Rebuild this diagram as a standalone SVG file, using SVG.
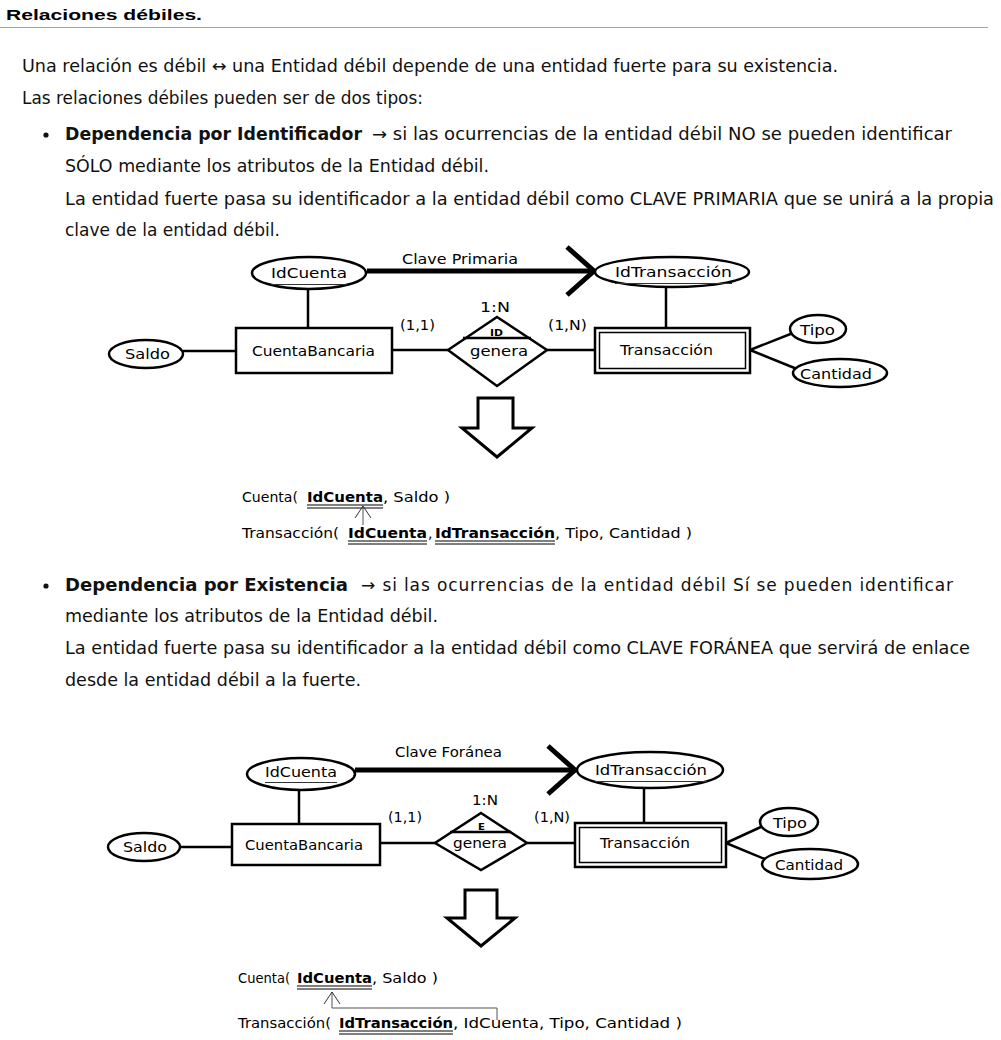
<svg xmlns="http://www.w3.org/2000/svg" width="1001" height="1040" viewBox="0 0 1001 1040">
<defs>
<style>
.body{font-family:"DejaVu Sans","Noto Sans",sans-serif;font-size:17px;fill:#111;}
.bold{font-weight:bold;}
.head{font-family:"Liberation Sans",Arial,sans-serif;font-size:15px;font-weight:bold;fill:#000;}
.er{font-family:"DejaVu Sans","Noto Sans",sans-serif;font-size:14px;fill:#000;}
.small{font-family:"DejaVu Sans",sans-serif;font-size:8px;font-weight:bold;fill:#000;}
.rel{font-family:"DejaVu Sans","Noto Sans",sans-serif;font-size:14px;fill:#000;}
.shape{fill:#fff;stroke:#000;stroke-width:2.5;}
.ln{stroke:#000;stroke-width:2.5;fill:none;}
.thick{stroke:#000;stroke-width:5;fill:none;}
.ul{stroke:#333;stroke-width:1;}
.ul2{stroke:#000;stroke-width:1.2;}
.thin{stroke:#555;stroke-width:1;fill:none;}
.block{fill:#fff;stroke:#000;stroke-width:3;stroke-linejoin:miter;}
</style>
<marker id="chev" markerUnits="userSpaceOnUse" markerWidth="40" markerHeight="60" refX="0" refY="0" viewBox="-30 -30 40 60" orient="auto" overflow="visible">
<path d="M -27 -24 L 0 0 L -27 24" fill="none" stroke="#000" stroke-width="5"/>
</marker>
<marker id="openv" markerUnits="userSpaceOnUse" markerWidth="20" markerHeight="20" refX="0" refY="0" viewBox="-12 -10 14 20" orient="auto" overflow="visible">
<path d="M -12 -8 L 0 0 L -12 8" fill="none" stroke="#333" stroke-width="1"/>
</marker>
</defs>
<rect width="1001" height="1040" fill="#fff"/>

<g id="heading">
<text class="head" x="6" y="20" textLength="196" lengthAdjust="spacingAndGlyphs">Relaciones débiles.</text>
<line x1="0" y1="27.5" x2="988" y2="27.5" stroke="#8fa6c4" stroke-width="1.2"/>
</g>
<g id="intro">
<text class="body" x="22" y="72" textLength="816" lengthAdjust="spacingAndGlyphs">Una relación es débil ↔ una Entidad débil depende de una entidad fuerte para su existencia.</text>
<text class="body" x="22" y="104" textLength="401" lengthAdjust="spacingAndGlyphs">Las relaciones débiles pueden ser de dos tipos:</text>
</g>
<g id="bullet1">
<circle cx="46" cy="135" r="2.6" fill="#111"/>
<text class="body bold" x="65" y="140" textLength="297" lengthAdjust="spacingAndGlyphs">Dependencia por Identificador</text>
<text class="body" x="372" y="140" textLength="580" lengthAdjust="spacingAndGlyphs">→ si las ocurrencias de la entidad débil NO se pueden identificar</text>
<text class="body" x="65" y="172" textLength="424" lengthAdjust="spacingAndGlyphs">SÓLO mediante los atributos de la Entidad débil.</text>
<text class="body" x="65" y="205" textLength="929" lengthAdjust="spacingAndGlyphs">La entidad fuerte pasa su identificador a la entidad débil como CLAVE PRIMARIA que se unirá a la propia</text>
<text class="body" x="65" y="236" textLength="215" lengthAdjust="spacingAndGlyphs">clave de la entidad débil.</text>
</g>
<g id="bullet2">
<circle cx="46" cy="586" r="2.6" fill="#111"/>
<text class="body bold" x="65" y="591" textLength="283" lengthAdjust="spacingAndGlyphs">Dependencia por Existencia</text>
<text class="body" x="361" y="591" textLength="592" lengthAdjust="spacing">→ si las ocurrencias de la entidad débil Sí se pueden identificar</text>
<text class="body" x="65" y="622" textLength="373" lengthAdjust="spacingAndGlyphs">mediante los atributos de la Entidad débil.</text>
<text class="body" x="65" y="654" textLength="905" lengthAdjust="spacingAndGlyphs">La entidad fuerte pasa su identificador a la entidad débil como CLAVE FORÁNEA que servirá de enlace</text>
<text class="body" x="65" y="686" textLength="296" lengthAdjust="spacingAndGlyphs">desde la entidad débil a la fuerte.</text>
</g>

<g id="connectors1">
<line class="thick" x1="367" y1="271" x2="594" y2="271" marker-end="url(#chev)"/>
<text class="er" x="402" y="264" textLength="116" lengthAdjust="spacingAndGlyphs">Clave Primaria</text>
<line class="ln" x1="308" y1="289" x2="308" y2="328"/>
<line class="ln" x1="183" y1="351" x2="236" y2="351"/>
<line class="ln" x1="392" y1="350" x2="448" y2="350"/>
<line class="ln" x1="546" y1="350" x2="595" y2="350"/>
<line class="ln" x1="666" y1="287" x2="666" y2="328"/>
<line class="ln" x1="750" y1="350" x2="793" y2="333"/>
<line class="ln" x1="750" y1="350" x2="797" y2="369"/>
<text class="er" x="400" y="330" textLength="35" lengthAdjust="spacingAndGlyphs">(1,1)</text>
<text class="er" x="548" y="330" textLength="39" lengthAdjust="spacingAndGlyphs">(1,N)</text>
<text class="er" x="480" y="312" textLength="30" lengthAdjust="spacingAndGlyphs">1:N</text>
</g>
<g id="d1-idcuenta">
<ellipse class="shape" cx="309" cy="273" rx="57" ry="16"/>
<text class="er" x="271" y="278" textLength="76" lengthAdjust="spacingAndGlyphs">IdCuenta</text>
<line class="ul" x1="271" y1="284.5" x2="347" y2="284.5"/>
</g>
<g id="d1-saldo">
<ellipse class="shape" cx="146" cy="354" rx="37" ry="14"/>
<text class="er" x="125" y="359" textLength="45" lengthAdjust="spacingAndGlyphs">Saldo</text>
</g>
<g id="d1-cuentabancaria">
<rect class="shape" x="236" y="328" width="156" height="45"/>
<text class="er" x="252" y="356" textLength="123" lengthAdjust="spacingAndGlyphs">CuentaBancaria</text>
</g>
<g id="d1-genera">
<polygon class="shape" points="497,317 547,350 497,386 448,350"/>
<line class="ln" x1="463" y1="338" x2="531" y2="338" stroke-width="2"/>
<text class="small" x="490" y="336" textLength="13" lengthAdjust="spacingAndGlyphs">ID</text>
<text class="er" x="470" y="356" textLength="58" lengthAdjust="spacingAndGlyphs">genera</text>
</g>
<g id="d1-idtransaccion">
<ellipse class="shape" cx="672" cy="272" rx="77" ry="15"/>
<text class="er" x="615" y="277" textLength="117" lengthAdjust="spacingAndGlyphs">IdTransacción</text>
<line class="ul" x1="615" y1="283.5" x2="732" y2="283.5"/>
</g>
<g id="d1-transaccion">
<rect class="shape" x="595" y="328" width="155" height="45"/>
<rect x="599.5" y="332.5" width="146" height="36" fill="none" stroke="#000" stroke-width="1.5"/>
<text class="er" x="620" y="355" textLength="93" lengthAdjust="spacingAndGlyphs">Transacción</text>
</g>
<g id="d1-tipo">
<ellipse class="shape" cx="818" cy="329" rx="28" ry="14"/>
<text class="er" x="800" y="335" textLength="35" lengthAdjust="spacingAndGlyphs">Tipo</text>
</g>
<g id="d1-cantidad">
<ellipse class="shape" cx="840" cy="373" rx="47" ry="14"/>
<text class="er" x="800" y="379" textLength="72" lengthAdjust="spacingAndGlyphs">Cantidad</text>
</g>
<g id="d1-arrow">
<polygon class="block" points="478,398 513,398 513,428 532,428 497,457 462,428 478,428"/>
</g>
<g id="d1-relational">
<text class="rel" x="242" y="502" textLength="56" lengthAdjust="spacingAndGlyphs">Cuenta(</text>
<text class="rel bold" x="307" y="502" textLength="76" lengthAdjust="spacingAndGlyphs">IdCuenta</text>
<text class="rel" x="383" y="502" textLength="67" lengthAdjust="spacingAndGlyphs">, Saldo )</text>
<line class="ul2" x1="307" y1="505" x2="383" y2="505"/>
<line class="ul2" x1="307" y1="508" x2="383" y2="508"/>
<line class="thin" x1="363" y1="525" x2="363" y2="506" marker-end="url(#openv)"/>
<text class="rel" x="242" y="538" textLength="97" lengthAdjust="spacingAndGlyphs">Transacción(</text>
<text class="rel bold" x="348" y="538" textLength="79" lengthAdjust="spacingAndGlyphs">IdCuenta</text>
<text class="rel" x="428" y="538">,</text>
<text class="rel bold" x="435" y="538" textLength="120" lengthAdjust="spacingAndGlyphs">IdTransacción</text>
<text class="rel" x="555" y="538" textLength="137" lengthAdjust="spacingAndGlyphs">, Tipo, Cantidad )</text>
<line class="ul2" x1="348" y1="541" x2="427" y2="541"/>
<line class="ul2" x1="348" y1="544" x2="427" y2="544"/>
<line class="ul2" x1="435" y1="541" x2="555" y2="541"/>
<line class="ul2" x1="435" y1="544" x2="555" y2="544"/>
</g>

<g id="connectors2">
<line class="thick" x1="355" y1="770" x2="575" y2="770" marker-end="url(#chev)"/>
<text class="er" x="395" y="757" textLength="107" lengthAdjust="spacingAndGlyphs">Clave Foránea</text>
<line class="ln" x1="299" y1="790" x2="299" y2="824"/>
<line class="ln" x1="180" y1="847" x2="232" y2="847"/>
<line class="ln" x1="380" y1="843" x2="435" y2="843"/>
<line class="ln" x1="527" y1="843" x2="575" y2="843"/>
<line class="ln" x1="644" y1="788" x2="644" y2="823"/>
<line class="ln" x1="726" y1="843" x2="763" y2="826"/>
<line class="ln" x1="726" y1="843" x2="767" y2="860"/>
<text class="er" x="388" y="822" textLength="34" lengthAdjust="spacingAndGlyphs">(1,1)</text>
<text class="er" x="534" y="822" textLength="36" lengthAdjust="spacingAndGlyphs">(1,N)</text>
<text class="er" x="472" y="805" textLength="26" lengthAdjust="spacingAndGlyphs">1:N</text>
</g>
<g id="d2-idcuenta">
<ellipse class="shape" cx="301" cy="774" rx="54" ry="16"/>
<text class="er" x="265" y="777" textLength="72" lengthAdjust="spacingAndGlyphs">IdCuenta</text>
<line class="ul" x1="265" y1="782.5" x2="337" y2="782.5"/>
</g>
<g id="d2-saldo">
<ellipse class="shape" cx="144" cy="847" rx="36" ry="14"/>
<text class="er" x="123" y="852" textLength="44" lengthAdjust="spacingAndGlyphs">Saldo</text>
</g>
<g id="d2-cuentabancaria">
<rect class="shape" x="232" y="824" width="148" height="41"/>
<text class="er" x="245" y="850" textLength="118" lengthAdjust="spacingAndGlyphs">CuentaBancaria</text>
</g>
<g id="d2-genera">
<polygon class="shape" points="481,813 527,843 481,870 435,843"/>
<line class="ln" x1="450" y1="832" x2="511" y2="832" stroke-width="2"/>
<text class="small" x="478" y="830" textLength="7" lengthAdjust="spacingAndGlyphs">E</text>
<text class="er" x="453" y="848" textLength="54" lengthAdjust="spacingAndGlyphs">genera</text>
</g>
<g id="d2-idtransaccion">
<ellipse class="shape" cx="650" cy="770" rx="73" ry="18"/>
<text class="er" x="595" y="775" textLength="112" lengthAdjust="spacingAndGlyphs">IdTransacción</text>
<line class="ul" x1="595" y1="781.5" x2="707" y2="781.5"/>
</g>
<g id="d2-transaccion">
<rect class="shape" x="575" y="823" width="151" height="44"/>
<rect x="579.5" y="827.5" width="142" height="35" fill="none" stroke="#000" stroke-width="1.5"/>
<text class="er" x="600" y="848" textLength="90" lengthAdjust="spacingAndGlyphs">Transacción</text>
</g>
<g id="d2-tipo">
<ellipse class="shape" cx="789" cy="822" rx="29" ry="14"/>
<text class="er" x="773" y="828" textLength="34" lengthAdjust="spacingAndGlyphs">Tipo</text>
</g>
<g id="d2-cantidad">
<ellipse class="shape" cx="810" cy="864" rx="48" ry="15"/>
<text class="er" x="775" y="870" textLength="68" lengthAdjust="spacingAndGlyphs">Cantidad</text>
</g>
<g id="d2-arrow">
<polygon class="block" points="465,890 497,890 497,918 515,918 481,946 447,918 465,918"/>
</g>
<g id="d2-relational">
<text class="rel" x="238" y="983" textLength="52" lengthAdjust="spacingAndGlyphs">Cuenta(</text>
<text class="rel bold" x="297" y="983" textLength="75" lengthAdjust="spacingAndGlyphs">IdCuenta</text>
<text class="rel" x="372" y="983" textLength="66" lengthAdjust="spacingAndGlyphs">, Saldo )</text>
<line class="ul2" x1="297" y1="986" x2="372" y2="986"/>
<line class="ul2" x1="297" y1="989" x2="372" y2="989"/>
<polyline class="thin" points="497,1020 497,1008 332,1008 332,992" marker-end="url(#openv)"/>
<text class="rel" x="238" y="1028" textLength="93" lengthAdjust="spacingAndGlyphs">Transacción(</text>
<text class="rel bold" x="339" y="1028" textLength="114" lengthAdjust="spacingAndGlyphs">IdTransacción</text>
<text class="rel" x="453" y="1028" textLength="229" lengthAdjust="spacingAndGlyphs">, IdCuenta, Tipo, Cantidad )</text>
<line class="ul2" x1="339" y1="1031" x2="453" y2="1031"/>
<line class="ul2" x1="339" y1="1034" x2="453" y2="1034"/>
</g>
</svg>
